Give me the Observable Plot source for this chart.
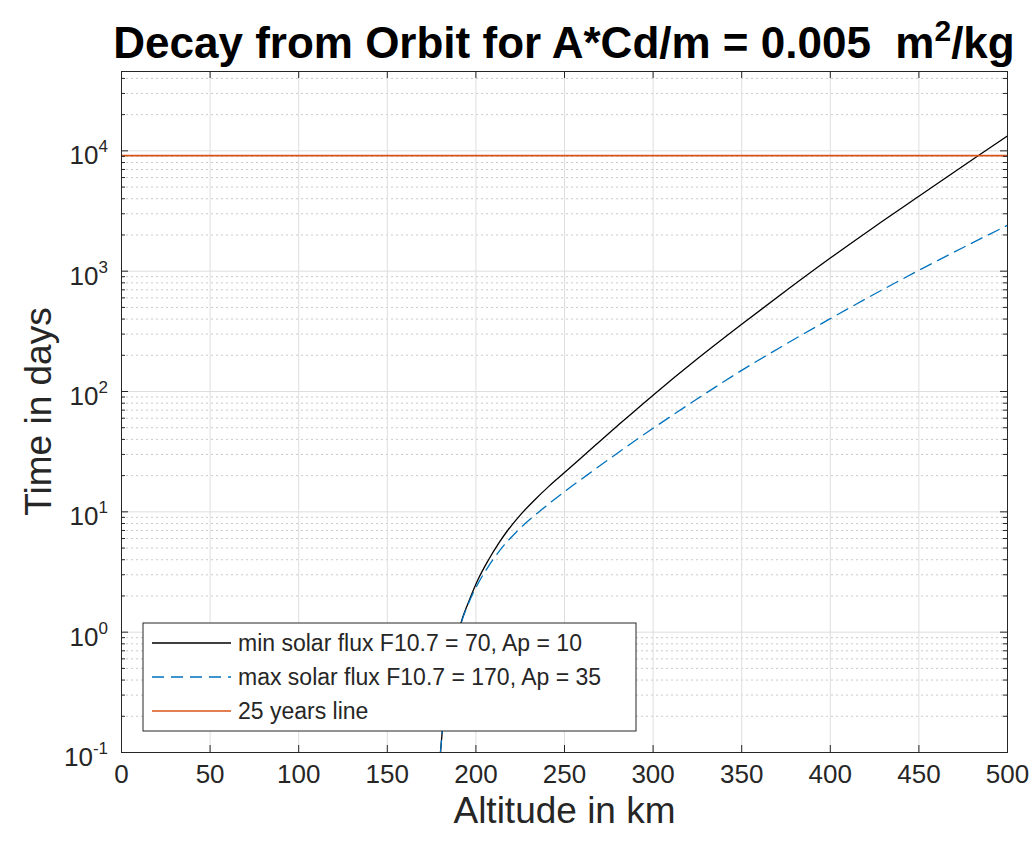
<!DOCTYPE html>
<html><head><meta charset="utf-8">
<script src="https://cdn.jsdelivr.net/npm/d3@7"></script>
<script src="https://cdn.jsdelivr.net/npm/@observablehq/plot@0.6"></script>
<style>body{margin:0;background:#fff} svg{display:block}</style>
</head><body><div id="chart"></div>
<script>
// ---- data ----
const altMin  = [180, 183, 186, 189, 192, 196, 201, 207, 213, 218, 225, 233, 241, 250, 259, 268, 281, 300, 325, 350, 377, 400, 425, 450, 483, 500];
const daysMin = [0.1, 0.3, 0.55, 0.85, 1.25, 1.8, 2.7, 3.96, 5.52, 7.03, 9.4, 12.5, 16.2, 21.2, 27.8, 36.4, 53.6, 93.3, 187, 362, 724, 1285, 2344, 4190, 9016, 13300];
const altMax  = [180, 183, 186, 189, 192, 196, 201, 207, 213, 223, 237, 250, 266, 281, 300, 325, 350, 375, 400, 425, 450, 475, 500];
const daysMax = [0.1, 0.3, 0.54, 0.83, 1.23, 1.76, 2.5, 3.51, 4.68, 6.84, 10.4, 14.7, 21.9, 31.6, 49.5, 87, 150, 248, 403, 646, 1016, 1574, 2404];
const years25Days = [9131];
const xTicks = [0, 50, 100, 150, 200, 250, 300, 350, 400, 450, 500];
const yDecades = [0.1, 1, 10, 100, 1000, 10000];
const yExponents = ["-1", "0", "1", "2", "3", "4"];
const legendLabels = ["min solar flux F10.7 = 70, Ap = 10", "max solar flux F10.7 = 170, Ap = 35", "25 years line"];
const titleMain = "Decay from Orbit for A*Cd/m = 0.005\u00A0\u00A0m";
const titleSup = "2";
const titleTail = "/kg";
const xLabel = "Altitude in km";
const yLabel = "Time in days";
const yMax = 45655;

// ---- layout ----
const W = 1035, H = 845, mL = 121, mR = 28, mT = 71, mB = 93;
const fw = W - mL - mR, fh = H - mT - mB;
const FONT = "'Liberation Sans', Arial, Helvetica, sans-serif";
const AX = "#262626";

const minorY = [];
for (let k = -1; k <= 4; k++) for (let m = 2; m <= 9; m++) { const v = m * Math.pow(10, k); if (v < yMax) minorY.push(v); }

const minData = altMin.map((a, i) => ({alt: a, days: daysMin[i]}));
const maxData = altMax.map((a, i) => ({alt: a, days: daysMax[i]}));

const plot = Plot.plot({
  width: W, height: H, marginLeft: mL, marginRight: mR, marginTop: mT, marginBottom: mB,
  style: {fontFamily: FONT, background: "#fff", overflow: "visible"},
  x: {domain: [0, 500], axis: null},
  y: {type: "log", domain: [0.1, yMax], axis: null},
  marks: [
    Plot.ruleY(minorY, {y: d => d, stroke: "#c4c4c4", strokeDasharray: "2,3", strokeWidth: 0.9}),
    Plot.ruleX(xTicks.slice(1, -1), {x: d => d, stroke: "#dedede", strokeWidth: 1}),
    Plot.ruleY(yDecades.slice(1), {y: d => d, stroke: "#dedede", strokeWidth: 1}),
    Plot.line(minData, {x: "alt", y: "days", stroke: "#000", strokeWidth: 1.3, curve: "monotone-x", clip: true}),
    Plot.line(maxData, {x: "alt", y: "days", stroke: "#0072BD", strokeWidth: 1.3, strokeDasharray: "12,7", curve: "monotone-x", clip: true}),
    Plot.ruleY(years25Days, {y: d => d, stroke: "#D95319", strokeWidth: 1.7}),
    // inward ticks
    Plot.ruleX(xTicks, {x: d => d, insetTop: fh - 7, stroke: AX}),
    Plot.ruleX(xTicks, {x: d => d, insetBottom: fh - 7, stroke: AX}),
    Plot.ruleY(yDecades, {y: d => d, insetRight: fw - 7, stroke: AX}),
    Plot.ruleY(yDecades, {y: d => d, insetLeft: fw - 7, stroke: AX}),
    Plot.ruleY(minorY, {y: d => d, insetRight: fw - 4, stroke: AX}),
    Plot.ruleY(minorY, {y: d => d, insetLeft: fw - 4, stroke: AX}),
    Plot.frame({stroke: AX, strokeWidth: 1}),
    Plot.text(xTicks, {x: d => d, frameAnchor: "bottom", dy: 30, text: d => String(d), fontSize: 26, fill: AX}),
    Plot.text([xLabel], {frameAnchor: "bottom", dy: 70, text: d => d, fontSize: 37, fill: AX})
  ]
});

const svg = d3.select(plot);
const ys = plot.scale("y");
// y tick labels with superscripts
yDecades.forEach((v, i) => {
  const py = ys.apply(v);
  const t = svg.append("text").attr("x", mL - 13).attr("y", py + 14)
    .attr("text-anchor", "end").attr("font-family", FONT).attr("font-size", 26).attr("fill", AX);
  t.append("tspan").text("10");
  t.append("tspan").attr("dy", -12).attr("font-size", 17).text(yExponents[i]);
});
// y axis label
svg.append("text").attr("transform", `translate(${mL - 83},${mT + fh / 2}) rotate(-90)`)
  .attr("text-anchor", "middle").attr("dy", "0.35em").attr("font-family", FONT)
  .attr("font-size", 37).attr("fill", AX).text(yLabel);
// title
const tt = svg.append("text").attr("x", mL + fw / 2).attr("y", 58).attr("text-anchor", "middle")
  .attr("font-family", FONT).attr("font-weight", "bold").attr("font-size", 44).attr("fill", "#000");
tt.append("tspan").text(titleMain);
tt.append("tspan").attr("dy", -17).attr("font-size", 30).text(titleSup);
tt.append("tspan").attr("dy", 17).attr("font-size", 44).text(titleTail);

// legend
const lg = svg.append("g").attr("transform", "translate(143,623)");
lg.append("rect").attr("width", 493).attr("height", 108).attr("fill", "#fff").attr("stroke", AX).attr("stroke-width", 1);
const styles = [
  {stroke: "#000", dash: null, w: 1.3},
  {stroke: "#0072BD", dash: "12,7", w: 1.3},
  {stroke: "#D95319", dash: null, w: 1.7}
];
legendLabels.forEach((lab, i) => {
  const cy = 20 + i * 34;
  const ln = lg.append("line").attr("x1", 9).attr("x2", 88).attr("y1", cy).attr("y2", cy)
    .attr("stroke", styles[i].stroke).attr("stroke-width", styles[i].w);
  if (styles[i].dash) ln.attr("stroke-dasharray", styles[i].dash);
  lg.append("text").attr("x", 95).attr("y", cy).attr("dy", "0.35em").attr("text-anchor", "start")
    .attr("font-family", FONT).attr("font-size", 23).attr("fill", AX).text(lab);
});

document.getElementById("chart").appendChild(plot);
</script>
</body></html>
